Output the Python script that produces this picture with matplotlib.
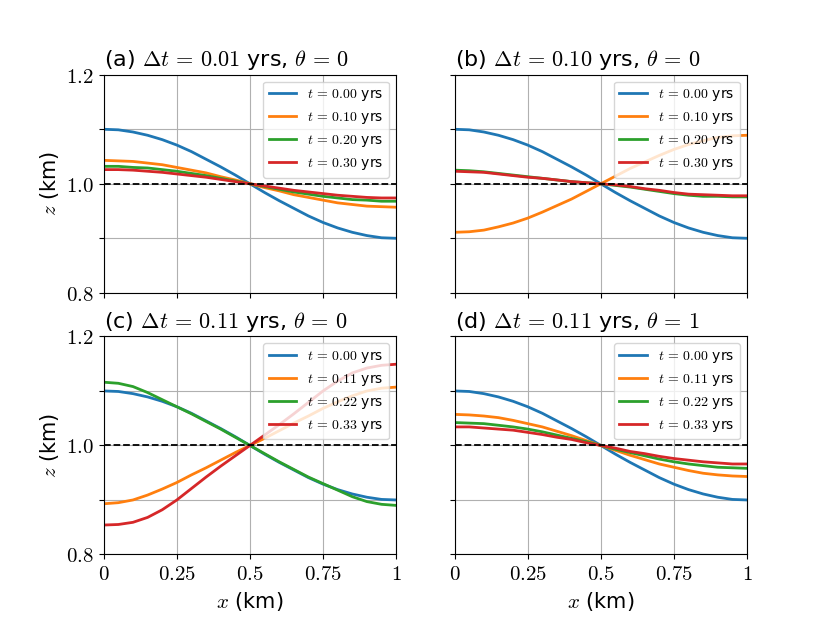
import matplotlib
matplotlib.use("Agg")
import matplotlib.pyplot as plt
import numpy as np

plt.rcParams['mathtext.fontset'] = 'cm'
plt.rcParams['font.size'] = 15

# x positions (km)
x = [0.00, 0.05, 0.10, 0.15, 0.20, 0.25, 0.30, 0.35, 0.40, 0.45, 0.50,
     0.55, 0.60, 0.65, 0.70, 0.75, 0.80, 0.85, 0.90, 0.95, 1.00]

# initial surface, same in every panel
z_init = [1.100, 1.099, 1.095, 1.089, 1.081, 1.071, 1.059, 1.045, 1.031, 1.016, 1.000,
          0.984, 0.969, 0.955, 0.941, 0.929, 0.919, 0.911, 0.905, 0.901, 0.900]

# (a) dt = 0.01, theta = 0
a_t01 = [1.043, 1.042, 1.041, 1.038, 1.035, 1.030, 1.025, 1.020, 1.013, 1.007, 1.000,
         0.993, 0.987, 0.980, 0.975, 0.970, 0.965, 0.962, 0.959, 0.958, 0.957]
a_t02 = [1.032, 1.032, 1.030, 1.029, 1.026, 1.023, 1.019, 1.015, 1.010, 1.005, 1.000,
         0.995, 0.990, 0.985, 0.981, 0.977, 0.974, 0.971, 0.970, 0.968, 0.968]
a_t03 = [1.026, 1.026, 1.025, 1.023, 1.021, 1.018, 1.015, 1.012, 1.008, 1.004, 1.000,
         0.996, 0.992, 0.988, 0.985, 0.982, 0.979, 0.977, 0.975, 0.974, 0.974]

# (b) dt = 0.10, theta = 0
b_t01 = [0.911, 0.912, 0.915, 0.921, 0.928, 0.937, 0.948, 0.960, 0.972, 0.986, 1.000,
         1.014, 1.028, 1.040, 1.052, 1.063, 1.072, 1.079, 1.085, 1.088, 1.089]
b_t02 = [1.025, 1.024, 1.022, 1.019, 1.016, 1.013, 1.010, 1.007, 1.004, 1.002, 1.000,
         0.997, 0.994, 0.990, 0.986, 0.982, 0.979, 0.977, 0.977, 0.976, 0.976]
b_t03 = [1.023, 1.022, 1.021, 1.018, 1.015, 1.012, 1.010, 1.007, 1.004, 1.002, 1.000,
         0.998, 0.995, 0.991, 0.988, 0.984, 0.981, 0.980, 0.979, 0.978, 0.978]

# (c) dt = 0.11, theta = 0
c_t1 = [0.893, 0.895, 0.900, 0.909, 0.920, 0.932, 0.946, 0.959, 0.973, 0.987, 1.000,
        1.013, 1.027, 1.041, 1.054, 1.068, 1.080, 1.091, 1.100, 1.105, 1.107]
c_t2 = [1.116, 1.114, 1.108, 1.097, 1.084, 1.071, 1.058, 1.044, 1.030, 1.015, 1.000,
        0.985, 0.970, 0.956, 0.942, 0.930, 0.918, 0.906, 0.897, 0.892, 0.890]
c_t3 = [0.854, 0.855, 0.859, 0.868, 0.882, 0.900, 0.921, 0.942, 0.962, 0.981, 1.000,
        1.019, 1.038, 1.058, 1.079, 1.100, 1.118, 1.133, 1.142, 1.147, 1.149]

# (d) dt = 0.11, theta = 1
d_t1 = [1.057, 1.056, 1.054, 1.051, 1.046, 1.040, 1.034, 1.026, 1.018, 1.009, 1.000,
        0.991, 0.982, 0.974, 0.966, 0.960, 0.954, 0.949, 0.946, 0.944, 0.943]
d_t2 = [1.042, 1.041, 1.040, 1.037, 1.034, 1.030, 1.025, 1.019, 1.013, 1.007, 1.000,
        0.993, 0.987, 0.981, 0.975, 0.970, 0.966, 0.963, 0.960, 0.959, 0.958]
d_t3 = [1.034, 1.034, 1.032, 1.030, 1.028, 1.024, 1.020, 1.015, 1.011, 1.005, 1.000,
        0.995, 0.989, 0.985, 0.980, 0.976, 0.973, 0.970, 0.968, 0.966, 0.966]

panels = [
    ("(a)", "0.01", "0", ["0.00", "0.10", "0.20", "0.30"], [z_init, a_t01, a_t02, a_t03]),
    ("(b)", "0.10", "0", ["0.00", "0.10", "0.20", "0.30"], [z_init, b_t01, b_t02, b_t03]),
    ("(c)", "0.11", "0", ["0.00", "0.11", "0.22", "0.33"], [z_init, c_t1, c_t2, c_t3]),
    ("(d)", "0.11", "1", ["0.00", "0.11", "0.22", "0.33"], [z_init, d_t1, d_t2, d_t3]),
]

xticks = [0, 0.25, 0.5, 0.75, 1]
xticklabels = ["$0$", "$0.25$", "$0.5$", "$0.75$", "$1$"]
yticks = [0.8, 0.9, 1.0, 1.1, 1.2]
yticklabels = ["$0.8$", "", "$1.0$", "", "$1.2$"]

fig, axes = plt.subplots(2, 2, figsize=(8.3, 6.23), dpi=100, sharex=True, sharey=True)

for ax, (tag, dt, theta, times, series) in zip(axes.flat, panels):
    for tt, z in zip(times, series):
        ax.plot(x, z, lw=2, label=r"$t\,=\,%s$ yrs" % tt)
    ax.axhline(1.0, color='k', ls='--', lw=1.3)
    ax.set_title(r"%s $\Delta t\,=\,%s$ yrs, $\theta\,=\,%s$" % (tag, dt, theta),
                 loc='left', fontsize=16)
    ax.grid(True)
    ax.set_xlim(0, 1)
    ax.set_ylim(0.8, 1.2)
    ax.set_xticks(xticks)
    ax.set_xticklabels(xticklabels)
    ax.set_yticks(yticks)
    ax.set_yticklabels(yticklabels)
    ax.legend(loc='upper right', fontsize=10)

for ax in axes[:, 0]:
    ax.set_ylabel("$z$ (km)")
for ax in axes[1, :]:
    ax.set_xlabel("$x$ (km)")

plt.savefig("out.png")
